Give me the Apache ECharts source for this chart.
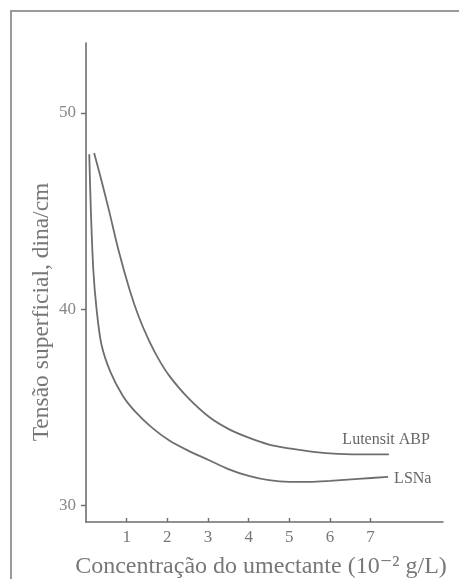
<!DOCTYPE html>
<html>
<head>
<meta charset="utf-8">
<script src="https://cdn.jsdelivr.net/npm/echarts@6/dist/echarts.min.js"></script>
<style>
html, body { margin: 0; padding: 0; background: #fff; }
#chart { width: 459px; height: 579px; }
</style>
</head>
<body>
<div id="chart"></div>
<script>
// valores
var xTicks = [1, 2, 3, 4, 5, 6, 7];
var yTicks = [30, 40, 50];
var lutensitX = [0.20, 0.35, 0.57, 0.8, 1.07, 1.3, 1.55, 1.8, 2.05, 2.5, 3.03, 3.5, 4.0, 4.5, 5.0, 5.5, 6.0, 6.7, 7.45];
var lutensitY = [47.96, 46.8, 45.0, 43.0, 41.0, 39.6, 38.4, 37.4, 36.6, 35.5, 34.5, 33.9, 33.45, 33.1, 32.9, 32.75, 32.65, 32.6, 32.6];
var lsnaX = [0.08, 0.12, 0.18, 0.26, 0.38, 0.6, 0.9, 1.2, 1.6, 2.05, 2.5, 3.03, 3.5, 4.0, 4.5, 5.0, 5.5, 6.0, 6.7, 7.43];
var lsnaY = [47.9, 45.0, 42.0, 40.0, 38.2, 36.8, 35.6, 34.8, 34.0, 33.3, 32.8, 32.3, 31.85, 31.5, 31.28, 31.2, 31.2, 31.25, 31.35, 31.45];

function pares(xs, ys) {
	var out = [];
	for (var i = 0; i < xs.length; i++) out.push([xs[i], ys[i]]);
	return out;
}

var chart = echarts.init(document.getElementById('chart'));
var serif = '"Liberation Serif", "DejaVu Serif", serif';
var cinza = '#6e6e6e';

var opt = {
	animation: false,
	grid: { left: 86, top: 43, width: 357, height: 479 },
	xAxis: {
		type: 'value',
		min: 0,
		max: 8.78,
		axisLine: { lineStyle: { color: cinza, width: 1.6 } },
		axisTick: { inside: true, length: 4, customValues: xTicks, lineStyle: { color: cinza, width: 1.4 } },
		axisLabel: { customValues: xTicks, margin: 7, color: '#777', fontFamily: serif, fontSize: 17 },
		splitLine: { show: false }
	},
	yAxis: {
		type: 'value',
		min: 29.15,
		max: 53.57,
		axisLine: { show: true, lineStyle: { color: cinza, width: 1.6 } },
		axisTick: { show: true, length: 5, customValues: yTicks, lineStyle: { color: cinza, width: 1.4 } },
		axisLabel: { customValues: yTicks, margin: 10, color: '#888', fontFamily: serif, fontSize: 17 },
		splitLine: { show: false }
	},
	graphic: [
		{ type: 'rect', shape: { x: 11, y: 11, width: 520, height: 640 }, style: { fill: 'none', stroke: '#9a9a9a', lineWidth: 2 } },
		{ type: 'text', x: 261, y: 567, style: { text: 'Concentração do umectante (10⁻² g/L)', font: '24px ' + serif, fill: '#777', align: 'center', verticalAlign: 'middle' } },
		{ type: 'text', x: 42, y: 312, rotation: Math.PI / 2, style: { text: 'Tensão superficial, dina/cm', font: '23.5px ' + serif, fill: '#777', align: 'center', verticalAlign: 'middle' } }
	],
	series: [
		{
			name: 'Lutensit ABP',
			type: 'line',
			data: pares(lutensitX, lutensitY),
			smooth: 0.3,
			showSymbol: false,
			lineStyle: { color: cinza, width: 1.8 },
			endLabel: { show: true, formatter: 'Lutensit ABP', align: 'right', distance: 0, offset: [41, -15], color: '#666', fontFamily: serif, fontSize: 16 }
		},
		{
			name: 'LSNa',
			type: 'line',
			data: pares(lsnaX, lsnaY),
			smooth: 0.3,
			showSymbol: false,
			lineStyle: { color: cinza, width: 1.8 },
			endLabel: { show: true, formatter: 'LSNa', distance: 6, offset: [0, 2], color: '#666', fontFamily: serif, fontSize: 16 }
		}
	]
};
chart.setOption(opt);
</script>
</body>
</html>
